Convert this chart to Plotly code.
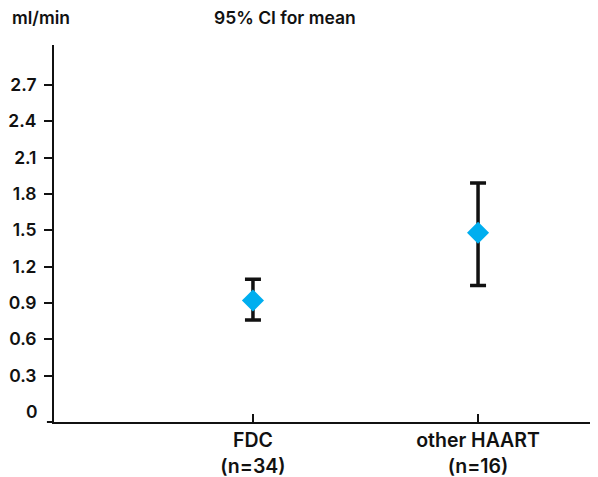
import plotly.graph_objects as go

categories = ["FDC<br>(n=34)", "other HAART<br>(n=16)"]
means = [0.92, 1.48]
ci_lower = [0.76, 1.045]
ci_upper = [1.095, 1.89]
y_ticks = [0.3, 0.6, 0.9, 1.2, 1.5, 1.8, 2.1, 2.4, 2.7]
y_tick_text = ["0.3", "0.6", "0.9", "1.2", "1.5", "1.8", "2.1", "2.4", "2.7"]

err_plus = [u - m for u, m in zip(ci_upper, means)]
err_minus = [m - l for m, l in zip(means, ci_lower)]

FONT = "Inter, Liberation Sans, Arial, sans-serif"
FS = 17.5
YR = [-0.083, 3.03]

fig = go.Figure()
fig.add_trace(go.Scatter(
    x=[0, 1], y=means, mode="markers",
    marker=dict(symbol="diamond", size=17, color="#00AEEF", line=dict(width=0)),
    error_y=dict(type="data", symmetric=False, array=err_plus, arrayminus=err_minus,
                 color="#111111", thickness=3.5, width=8),
    showlegend=False, hoverinfo="skip",
))
fig.add_trace(go.Scatter(x=[0], y=[0], yaxis="y2", mode="markers",
                         marker=dict(opacity=0), showlegend=False, hoverinfo="skip"))

tf = dict(family=FONT, size=FS, color="#111111", weight=600)
xf = dict(family=FONT, size=19.5, color="#111111", weight=600)

fig.update_layout(
    width=590, height=469,
    margin=dict(l=46, r=0, t=37, b=55, autoexpand=False),
    paper_bgcolor="white", plot_bgcolor="white",
    font=tf,
    xaxis=dict(
        range=[-0.884, 1.533], tickmode="array", tickvals=[0, 1], ticktext=categories,
        showline=True, linecolor="#111111", linewidth=2,
        ticks="inside", ticklen=8, tickwidth=1.5, tickcolor="#111111",
        showgrid=False, zeroline=False, tickfont=xf,
    ),
    yaxis=dict(
        range=YR, tickmode="array", tickvals=y_ticks, ticktext=y_tick_text,
        showline=True, linecolor="#111111", linewidth=2,
        ticks="outside", ticklen=8, tickwidth=1.5, tickcolor="#111111",
        showgrid=False, zeroline=False, tickfont=tf,
        ticklabelstandoff=4,
    ),
    yaxis2=dict(
        range=YR, overlaying="y", side="left", tickmode="array", tickvals=[0], ticktext=["0"],
        showline=False, ticks="outside", ticklen=8, tickcolor="rgba(0,0,0,0)",
        showgrid=False, zeroline=False, tickfont=tf, ticklabelstandoff=4,
    ),
    shapes=[dict(type="line", xref="paper", yref="paper", x0=-0.013, x1=0, y0=0, y1=0,
                 line=dict(color="#111111", width=2))],
    annotations=[
        dict(text="ml/min", xref="paper", yref="paper", x=-0.081, y=1.0, yshift=28,
             xanchor="left", yanchor="middle", showarrow=False, font=tf),
        dict(text="95% CI for mean", xref="paper", yref="paper", x=0.425, y=1.0, yshift=28,
             xanchor="center", yanchor="middle", showarrow=False, font=tf),
    ],
)

fig.write_html("out.html")
